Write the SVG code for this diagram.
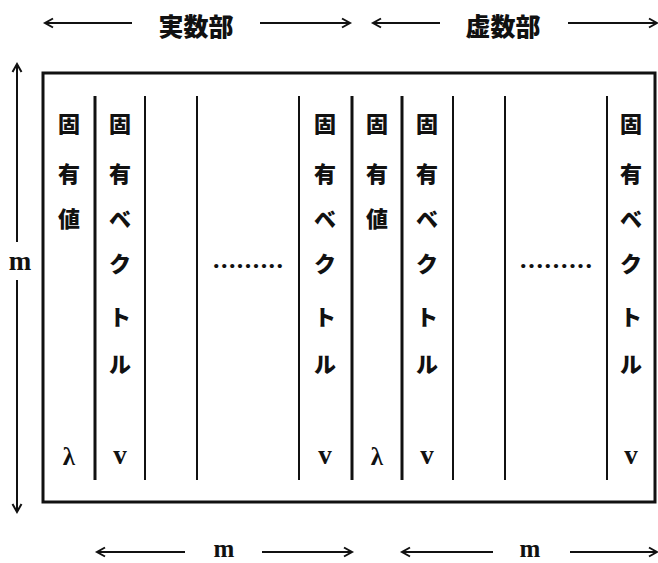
<svg xmlns="http://www.w3.org/2000/svg" width="658" height="563" viewBox="0 0 658 563">
<style>
.cj{font-family:"Noto Sans CJK JP","Noto Sans CJK SC",sans-serif;font-weight:900;font-size:22px;fill:#111;text-anchor:middle;dominant-baseline:central}
.hd{font-family:"Noto Sans CJK JP","Noto Sans CJK SC",sans-serif;font-weight:900;font-size:25px;fill:#111;text-anchor:middle;dominant-baseline:central}
.sf{font-family:"Liberation Serif",serif;font-weight:bold;font-size:27px;fill:#111;text-anchor:middle;dominant-baseline:central}
.bm{font-family:"Liberation Serif",serif;font-weight:bold;font-size:25px;fill:#111;text-anchor:middle;dominant-baseline:central}
.gk{font-family:"Liberation Serif",serif;font-weight:bold;font-size:25px;fill:#111;text-anchor:middle;dominant-baseline:central}
.dt{font-family:"Liberation Serif",serif;font-weight:bold;font-size:26px;fill:#111;text-anchor:middle}
.ar{stroke:#111;stroke-width:2;fill:none}
.col{stroke:#111;stroke-width:2}
.thk{stroke:#111;stroke-width:3}
</style>
<defs>
<marker id="ah" markerWidth="12" markerHeight="12" refX="9" refY="6" orient="auto-start-reverse" markerUnits="userSpaceOnUse">
<path d="M1,1.5 L9,6 L1,10.5" fill="none" stroke="#111" stroke-width="2"/>
</marker>
</defs>
<g id="connectors">
<line class="ar" x1="45" y1="23" x2="132" y2="23" marker-start="url(#ah)"/>
<line class="ar" x1="260" y1="23" x2="350" y2="23" marker-end="url(#ah)"/>
<line class="ar" x1="373" y1="23" x2="440" y2="23" marker-start="url(#ah)"/>
<line class="ar" x1="568" y1="23" x2="657" y2="23" marker-end="url(#ah)"/>
<line class="ar" x1="97" y1="552" x2="185" y2="552" marker-start="url(#ah)"/>
<line class="ar" x1="262" y1="552" x2="352" y2="552" marker-end="url(#ah)"/>
<line class="ar" x1="402" y1="552" x2="493" y2="552" marker-start="url(#ah)"/>
<line class="ar" x1="570" y1="552" x2="657" y2="552" marker-end="url(#ah)"/>
<line class="ar" x1="17" y1="64" x2="17" y2="242" marker-start="url(#ah)"/>
<line class="ar" x1="17" y1="280" x2="17" y2="512" marker-end="url(#ah)"/>
</g>
<g id="labels">
<text class="hd" x="196" y="25">実数部</text>
<text class="hd" x="503" y="25">虚数部</text>
<text class="bm" x="224" y="548">m</text>
<text class="bm" x="530" y="548">m</text>
<text class="sf" x="20" y="261">m</text>
</g>
<g id="matrix">
<rect x="43" y="73" width="612" height="429" fill="none" stroke="#111" stroke-width="3"/>
<line class="thk" x1="95" y1="96" x2="95" y2="480"/>
<line class="col" x1="145" y1="96" x2="145" y2="480"/>
<line class="col" x1="197" y1="96" x2="197" y2="480"/>
<line class="col" x1="299" y1="96" x2="299" y2="480"/>
<line class="thk" x1="352" y1="96" x2="352" y2="480"/>
<line class="thk" x1="402" y1="96" x2="402" y2="480"/>
<line class="col" x1="453" y1="96" x2="453" y2="480"/>
<line class="col" x1="505" y1="96" x2="505" y2="480"/>
<line class="col" x1="607" y1="96" x2="607" y2="480"/>
</g>
<g id="col-eigval-re">
<text class="cj" x="69" y="122">固</text>
<text class="cj" x="69" y="172">有</text>
<text class="cj" x="69" y="217">値</text>
<text class="gk" x="69" y="456">λ</text>
</g>
<g id="col-eigvec-re-1">
<text class="cj" x="120" y="122">固</text>
<text class="cj" x="120" y="172">有</text>
<text class="cj" x="120" y="217">ベ</text>
<text class="cj" x="120" y="262">ク</text>
<text class="cj" x="120" y="315">ト</text>
<text class="cj" x="120" y="362">ル</text>
<text class="sf" x="120" y="455">v</text>
</g>
<g id="dots-re">
<text class="dt" x="248" y="268" textLength="70" lengthAdjust="spacing">.........</text>
</g>
<g id="col-eigvec-re-m">
<text class="cj" x="325" y="122">固</text>
<text class="cj" x="325" y="172">有</text>
<text class="cj" x="325" y="217">ベ</text>
<text class="cj" x="325" y="262">ク</text>
<text class="cj" x="325" y="315">ト</text>
<text class="cj" x="325" y="362">ル</text>
<text class="sf" x="325" y="455">v</text>
</g>
<g id="col-eigval-im">
<text class="cj" x="377" y="122">固</text>
<text class="cj" x="377" y="172">有</text>
<text class="cj" x="377" y="217">値</text>
<text class="gk" x="377" y="456">λ</text>
</g>
<g id="col-eigvec-im-1">
<text class="cj" x="427" y="122">固</text>
<text class="cj" x="427" y="172">有</text>
<text class="cj" x="427" y="217">ベ</text>
<text class="cj" x="427" y="262">ク</text>
<text class="cj" x="427" y="315">ト</text>
<text class="cj" x="427" y="362">ル</text>
<text class="sf" x="427" y="455">v</text>
</g>
<g id="dots-im">
<text class="dt" x="556" y="268" textLength="72" lengthAdjust="spacing">.........</text>
</g>
<g id="col-eigvec-im-m">
<text class="cj" x="631" y="122">固</text>
<text class="cj" x="631" y="172">有</text>
<text class="cj" x="631" y="217">ベ</text>
<text class="cj" x="631" y="262">ク</text>
<text class="cj" x="631" y="315">ト</text>
<text class="cj" x="631" y="362">ル</text>
<text class="sf" x="631" y="455">v</text>
</g>
</svg>
